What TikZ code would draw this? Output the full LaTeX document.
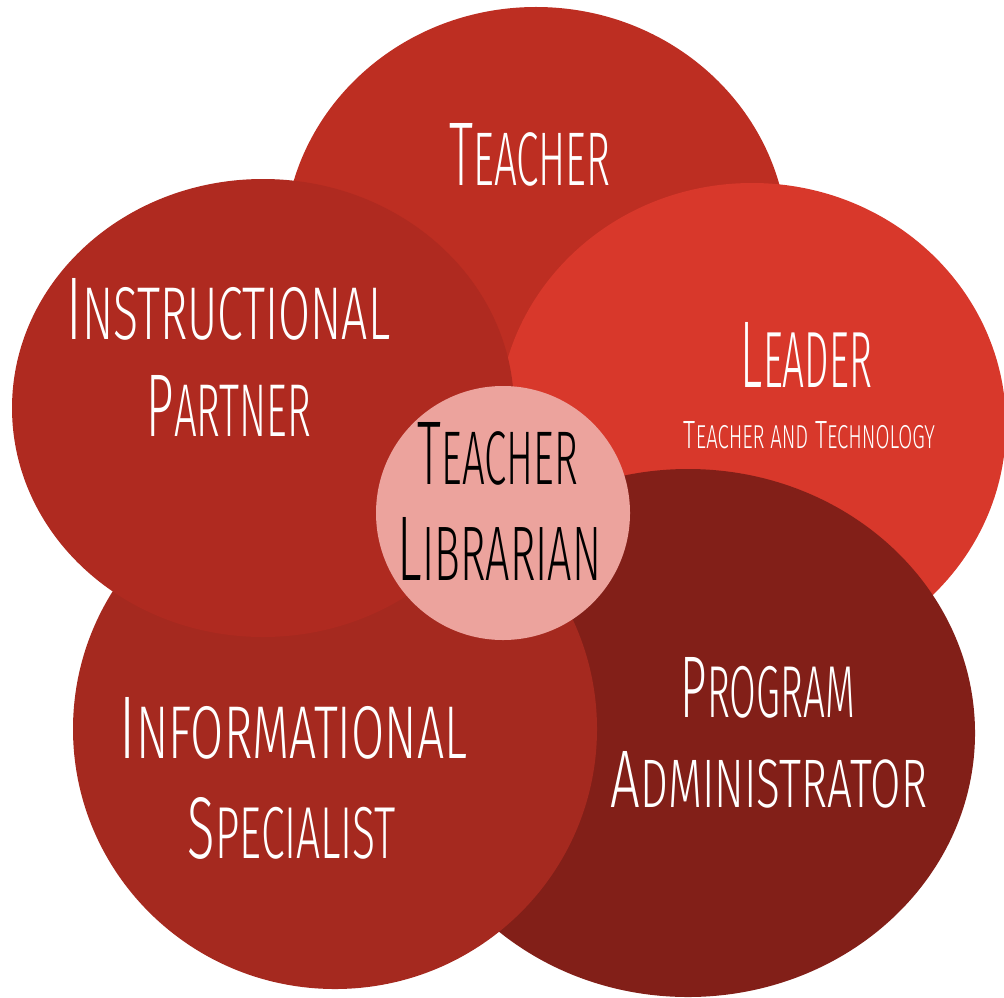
\documentclass[tikz,border=0pt]{standalone}
\usepackage{fontspec}
\usepackage{graphicx}
\newfontfamily\handfont{Fira Sans Light}
\definecolor{teachred}{RGB}{189,46,34}
\definecolor{leadred}{RGB}{216,56,43}
\definecolor{progred}{RGB}{130,31,24}
\definecolor{infored}{RGB}{165,41,31}
\definecolor{instrred}{RGB}{175,42,32}
\definecolor{libpink}{RGB}{236,163,157}
% word in small caps squeezed to width x height (cm)
\newcommand{\capword}[4]{\resizebox{#1cm}{#2cm}{#3\scalebox{.84}{#4}}}

\begin{document}
\begin{tikzpicture}[x=0.01cm,y=-0.01cm,
    role/.style={inner sep=0pt,anchor=base,text=white,font=\handfont}]
  \useasboundingbox (0,0) rectangle (1004,997);
  % the roles, back to front
  \fill[teachred] (536,247) ellipse [x radius=252,y radius=240];
  \fill[leadred] (752,425) ellipse [x radius=254,y radius=242];
  \fill[progred] (688,733) ellipse [x radius=287,y radius=264];
  \fill[infored] (335,729) ellipse [x radius=262,y radius=260];
  \fill[instrred] (263,408) ellipse [x radius=251,y radius=229];
  \fill[libpink] (503,513) circle [radius=127];

  \node[role] (teacher) at (530,185) {\capword{1.61}{0.62}{T}{EACHER}};
  \node[role] (instr) at (228.5,339) {\capword{3.23}{0.61}{I}{NSTRUCTIONAL}};
  \node[role] (partner) at (229,436) {\capword{1.64}{0.61}{P}{ARTNER}};
  \node[role] (leader) at (806.5,387) {\capword{1.31}{0.65}{L}{EADER}};
  \node[role] (leadsub) at (809.5,448) {\resizebox{2.51cm}{0.27cm}{T\scalebox{.84}{EACHER AND} T\scalebox{.84}{ECHNOLOGY}}};
  \node[role,text=black] (tl1) at (498,484) {\capword{1.60}{0.62}{T}{EACHER}};
  \node[role,text=black] (tl2) at (499.5,580) {\capword{2.03}{0.63}{L}{IBRARIAN}};
  \node[role] (prog) at (768,717) {\capword{1.74}{0.60}{P}{ROGRAM}};
  \node[role] (admin) at (769,807) {\capword{3.16}{0.56}{A}{DMINISTRATOR}};
  \node[role] (infor) at (293.5,758) {\capword{3.47}{0.61}{I}{NFORMATIONAL}};
  \node[role] (spec) at (292,858) {\capword{2.08}{0.61}{S}{PECIALIST}};
\end{tikzpicture}
\end{document}
